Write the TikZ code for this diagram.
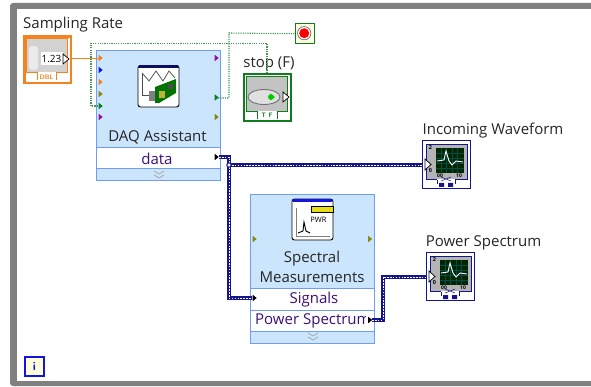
\documentclass[tikz,border=0pt]{standalone}
\usepackage{fontspec}
\setmainfont{Open Sans}
\usetikzlibrary{calc}
\definecolor{nodeblue}{HTML}{6F9CF5}
\definecolor{nodefill}{HTML}{CBE5FD}
\definecolor{navy}{HTML}{14148C}
\definecolor{wiregreen}{HTML}{3F9A4E}
\definecolor{termgreen}{HTML}{0F7D1E}
\definecolor{termolive}{HTML}{8A8A12}
\definecolor{termpurple}{HTML}{96109A}
\definecolor{termorange}{HTML}{F58220}
\definecolor{termblue}{HTML}{1414E0}
\definecolor{framegray}{HTML}{808080}
\definecolor{panelgray}{HTML}{B4B4B4}
\tikzset{
  x=1pt,y=-1pt,
  lab/.style={font=\fontsize{15}{17}\selectfont,text=black!85,inner sep=0pt},
  rowlab/.style={font=\fontsize{15}{17}\selectfont,text=navy!75!purple,inner sep=0pt},
  expressnode/.style={draw=nodeblue,line width=1.3pt,fill=nodefill,inner sep=0pt,anchor=north west},
  rowbox/.style={draw=nodeblue,line width=1.3pt,fill=white,inner sep=0pt,anchor=north west,minimum width=124pt},
  dotwire/.style={wiregreen,line width=1.1pt,dash pattern=on 1.2pt off 1.1pt},
  orangewire/.style={termorange,line width=1pt},
  wirebase/.style={navy,line width=3.6pt,line join=miter},
  wiredash/.style={white,line width=.9pt,dash pattern=on 1.6pt off 1.3pt},
}
\newcommand{\term}[3]{\fill[#3] (#1-1.8,#2-3.2) -- (#1+2.2,#2) -- (#1-1.8,#2+3.2) -- cycle;}
\newcommand{\wtri}[2]{\draw[black,line width=.7pt,fill=white] (#1-3,#2-5) -- (#1+3,#2) -- (#1-3,#2+5) -- cycle;}
\newcommand{\graphind}[2]{%
  \begin{scope}[shift={(#1,#2)}]
    \draw[navy,line width=1pt,fill=white] (.5,.5) rectangle (48.5,48.5);
    \draw[navy,line width=.8pt,fill=panelgray] (4,4) rectangle (45,39);
    \fill[black!85!green] (14,8) rectangle (42,33);
    \foreach \g in {19,24.5,30,35.5}{\draw[teal!60!black,line width=.6pt] (\g,8) -- (\g,33);}
    \foreach \g in {13,18,23,28}{\draw[teal!60!black,line width=.6pt] (14,\g) -- (42,\g);}
    \draw[white,line width=.9pt] (15,21) -- (22,20) -- (24,11) -- (27,21) -- (30,25) -- (34,21) -- (41,22);
    \fill[white] (15,39) rectangle (33,47);
    \draw[navy,line width=.8pt] (15,40) -- (15,44) (33,40) -- (33,44);
    \fill[navy] (17,43) rectangle (22,47) (26,43) rectangle (31,47);
    \draw[navy,line width=.5pt] (19,37) -- (29,41) (19,41) -- (29,37);
    \node[font=\fontsize{5.5}{5}\selectfont\bfseries,inner sep=0pt] at (8.5,8) {2};
    \node[font=\fontsize{5.5}{5}\selectfont\bfseries,inner sep=0pt] at (8.5,31) {0};
    \node[font=\fontsize{5}{5}\selectfont\bfseries,inner sep=0pt] at (18,36) {00};
    \node[font=\fontsize{5}{5}\selectfont\bfseries,inner sep=0pt] at (37,36) {10};
    \draw[black,line width=.7pt,fill=white] (3,19) -- (9,24.5) -- (3,30) -- cycle;
  \end{scope}}
\begin{document}
\begin{tikzpicture}
\useasboundingbox (0,0) rectangle (591,387);
% frame
\fill[framegray,rounded corners=3pt] (10,3) rectangle (600,386);
\fill[white] (17,9) rectangle (600,381);

\node[expressnode,minimum width=124pt,minimum height=130pt] (daq) at (96,50) {};
\node[rowbox,minimum height=21pt] (daqrow) at (96,147) {};
\node[rowlab] at (157,158.5) {data};
\node[lab] at (157.5,137) {DAQ Assistant};
\draw[black!35,line width=.7pt] (154,171) -- (159,174) -- (164,171) (154,175) -- (159,178) -- (164,175);

\node[expressnode,minimum width=124pt,minimum height=149pt] (spec) at (250,194) {};
\node[rowbox,minimum height=21.5pt] (sigrow) at (250,288) {};
\node[rowbox,minimum height=21.5pt] (powrow) at (250,309.5) {};
\node[lab,align=center,font=\fontsize{15}{20.5}\selectfont] at (312,267) {Spectral\\Measurements};
\node[rowlab] at (314,299.5) {Signals};
\begin{scope}
  \clip (252,311) rectangle (365,330);
  \node[rowlab,anchor=west] at (255,321) {Power Spectrum};
\end{scope}
\draw[black!35,line width=.7pt] (308,333) -- (313,336) -- (318,333) (308,337) -- (313,340) -- (318,337);

% DAQ icon
\draw[black,line width=.9pt,fill=white,rounded corners=2.5pt] (138,65.5) rectangle (179,107);
\fill[navy!70!black] (139,65.5) rectangle (178,68.5);
\draw[black!65,line width=.8pt] (143,74) -- (149,81) -- (156,71) -- (163,81) -- (169,71) -- (175,78);
\draw[black!70,line width=1pt] (142,73) -- (142,96) -- (150,96);
\fill[black!50] (149,91) rectangle (155,101);
\fill[green!45!black] (155,87) -- (176,79) -- (176,93) -- (159,103) -- (155,103) -- cycle;
\fill[yellow!70!black] (159,91) rectangle (165,98);
\fill[black!70] (168,84) rectangle (173,89);

% PWR icon
\draw[black,line width=.9pt,fill=white,rounded corners=2.5pt] (292,199) rectangle (333,240);
\fill[termblue] (293,199.5) rectangle (332,202.5);
\fill[yellow!90!black,draw=black,line width=.5pt] (311,206) rectangle (333,212);
\draw[black!50,line width=.5pt] (296,208) -- (296,236) -- (330,236);
\draw[black,line width=.9pt] (298,233) -- (303,231) -- (304,222) -- (306,231) -- (310,233);
\node[font=\fontsize{7.5}{7}\selectfont,inner sep=0pt] at (318.5,220) {PWR};

% Sampling Rate control
\node[lab,anchor=west] (srlab) at (23,24.5) {Sampling Rate};
\node[draw=termorange,line width=2.6pt,fill=white,inner sep=0pt,anchor=north west,minimum width=46.5pt,minimum height=46.5pt] (rate) at (23.3,35.3) {};
\draw[termorange,line width=.7pt,fill=panelgray!60] (26.5,38.5) rectangle (67.5,72);
\fill[white] (37,72) rectangle (56,80.5);
\draw[termorange,line width=.7pt] (37,72) -- (37,80) (56,72) -- (56,80);
\node[font=\fontsize{6.5}{7}\sffamily\bfseries,text=termorange,inner sep=0pt] at (46.5,77.2) {DBL};
\fill[black!8,rounded corners=3pt] (29,46) rectangle (38,70);
\fill[white] (41,52) rectangle (63,65);
\node[font=\fontsize{10}{10}\selectfont,inner sep=0pt] at (51.5,58.7) {1.23};
\wtri{66}{59}

% stop terminal
\node[lab,anchor=center] (stoplab) at (269,63.5) {stop (F)};
\node[draw=termgreen,line width=2pt,fill=white,inner sep=0pt,anchor=north west,minimum width=47pt,minimum height=47pt] (stopctl) at (243,73) {};
\draw[termgreen,line width=.9pt,fill=panelgray!80] (246,76) rectangle (287,111);
\fill[white] (257,111) rectangle (277,119);
\draw[termgreen,line width=.7pt] (257,111) -- (257,119) (277,111) -- (277,119);
\node[font=\fontsize{6.5}{7}\sffamily\bfseries,text=termgreen,inner sep=0pt] at (267,115.5) {T F};
\draw[black!55,line width=.9pt,fill=black!12] (264,97) ellipse (16 and 7.5);
\fill[green!80!black] (275,97) -- (270,93.5) -- (270,100.5) -- cycle;
\fill[green!80!black] (271,97) ellipse (3 and 2.8);
\wtri{286}{97}

% stop button
\node[draw=termgreen,line width=1pt,fill=yellow!12,inner sep=0pt,anchor=north west,minimum width=19.5pt,minimum height=19.5pt] (stopbtn) at (294.5,23.5) {};
\fill[black!60] (304.2,33.2) circle (7);
\fill[white] (304.2,33.2) circle (6.2);
\fill[red] (304.2,33.2) circle (5);

% indicators
\graphind{422}{140}
\coordinate (inA) at (422,165);
\node[lab,anchor=center] (inclab) at (493,130.5) {Incoming Waveform};
\graphind{426}{252}
\coordinate (inB) at (426,277);
\node[lab,anchor=center] (powlab) at (483.5,242.5) {Power Spectrum};

% loop iteration terminal
\node[draw=termblue,line width=1.6pt,fill=yellow!15,inner sep=0pt,anchor=north west,minimum width=19pt,minimum height=19pt,font=\fontsize{12}{12}\sffamily\bfseries,text=termblue] (iter) at (24,356) {i};

% terminal anchors
\coordinate (dIn1) at (99,58.5);
\coordinate (dIn5) at (99,106);
\coordinate (dOut2) at (218,98);
\coordinate (dData) at (219,157);
\coordinate (sSig) at (252,298);
\coordinate (sPow) at (372,320);
\coordinate (junc) at (229,165);

% connectors
\draw[orangewire] (70,58.5) -- (dIn1);
\draw[dotwire] (dOut2) -- (229,98) -- (229,33) -- (stopbtn.west);
\draw[dotwire] (stopctl.north -| 267,0) -- (267,43.5) -- (91,43.5) -- (91,106) -- (dIn5);
\foreach \s in {wirebase,wiredash}{
  \draw[\s] (dData) -- (229,157) -- (junc) -- (229,298) -- (sSig);
  \draw[\s] (junc) -- (inA);
  \draw[\s] (sPow) -- (383,320) -- (383,277) -- (inB);
}
\draw[navy,line width=1pt,fill=white] (junc) circle (2.2);

% terminals
\term{100.5}{58}{termorange}
\term{100.5}{70}{termblue}
\term{100.5}{82}{termorange}
\term{100.5}{94}{termolive}
\term{100.5}{106}{termgreen}
\term{100.5}{117}{termpurple}
\term{216.5}{58}{termpurple}
\term{216.5}{97.5}{termgreen}
\term{216.5}{117}{termolive}
\term{216.5}{157}{black}
\term{254.5}{239}{termolive}
\term{370}{239}{termolive}
\term{254.5}{298}{black}
\term{370}{320}{black}
\end{tikzpicture}
\end{document}
